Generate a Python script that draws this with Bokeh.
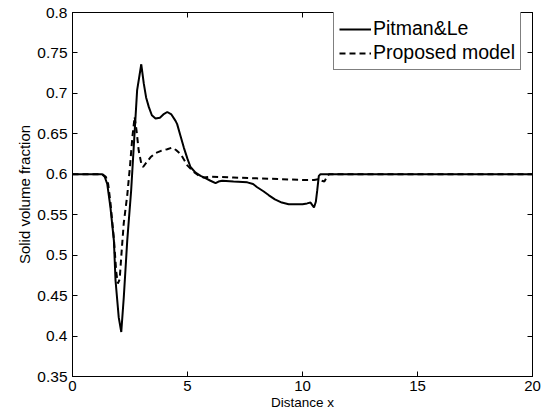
from bokeh.plotting import figure
from bokeh.models import LinearAxis, FixedTicker, Legend, LegendItem, Range1d
from bokeh.embed import file_html
from bokeh.resources import INLINE

# Pitman&Le (solid)
x_pitman = [0, 1.29, 1.4, 1.51, 1.65, 1.80, 1.87, 2.01, 2.12, 2.23, 2.38, 2.55, 2.81, 2.99,
            3.1, 3.2, 3.32, 3.45, 3.61, 3.8, 3.95, 4.12, 4.3, 4.48, 4.55, 4.7, 4.84, 5.0,
            5.13, 5.35, 5.57, 5.8, 6.0, 6.22, 6.35, 6.51, 7.0, 7.6, 7.85, 8.03, 8.3, 8.54,
            8.8, 9.1, 9.4, 9.77, 10.0, 10.2, 10.35, 10.45, 10.5, 10.58, 10.64, 10.71, 10.78, 20]
y_pitman = [0.6, 0.6, 0.597, 0.588, 0.559, 0.518, 0.469, 0.423, 0.405, 0.448, 0.518, 0.58, 0.704, 0.736,
            0.712, 0.695, 0.683, 0.673, 0.669, 0.670, 0.674, 0.677, 0.674, 0.666, 0.662, 0.647, 0.633, 0.619,
            0.609, 0.602, 0.598, 0.595, 0.592, 0.589, 0.591, 0.592, 0.591, 0.590, 0.588, 0.584, 0.579, 0.574,
            0.569, 0.565, 0.563, 0.563, 0.563, 0.564, 0.565, 0.561, 0.559, 0.566, 0.58, 0.598, 0.600, 0.6]

# Proposed model (dashed)
x_prop = [0, 1.3, 1.45, 1.55, 1.65, 1.8, 1.9, 1.97, 2.05, 2.15, 2.23, 2.38, 2.5, 2.6, 2.7,
          2.78, 2.88, 3.0, 3.07, 3.2, 3.39, 3.6, 3.85, 4.12, 4.33, 4.5, 4.7, 4.85, 4.99,
          5.27, 5.5, 5.71, 6.0, 7.0, 8.0, 9.0, 10.0, 10.5, 10.7, 10.85, 10.95, 11.05, 11.15, 20]
y_prop = [0.6, 0.6, 0.597, 0.588, 0.565, 0.52, 0.48, 0.465, 0.47, 0.51, 0.54, 0.574, 0.61, 0.645, 0.671,
          0.655, 0.629, 0.612, 0.609, 0.614, 0.621, 0.626, 0.629, 0.631, 0.633, 0.630, 0.625, 0.618, 0.611,
          0.603, 0.598, 0.596, 0.597, 0.596, 0.595, 0.594, 0.593, 0.593, 0.594, 0.592, 0.591, 0.596, 0.6, 0.6]

x_ticks = [0, 5, 10, 15, 20]
y_ticks = [0.35, 0.4, 0.45, 0.5, 0.55, 0.6, 0.65, 0.7, 0.75, 0.8]
y_tick_labels = ["0.35", "0.4", "0.45", "0.5", "0.55", "0.6", "0.65", "0.7", "0.75", "0.8"]

FONT = "Liberation Sans"

p = figure(width=550, height=419, output_backend="svg", toolbar_location=None,
           x_range=Range1d(0, 20), y_range=Range1d(0.35, 0.8),
           min_border_left=72, min_border_right=18, min_border_top=12, min_border_bottom=43)
p.grid.visible = False
p.outline_line_color = "black"
p.outline_line_width = 1
p.background_fill_color = "white"
p.border_fill_color = "white"

r1 = p.line(x_pitman, y_pitman, line_color="black", line_width=2)
r2 = p.line(x_prop, y_prop, line_color="black", line_width=2, line_dash="6 4")

def style_axis(ax, show_labels=True):
    ax.major_tick_in = 5
    ax.major_tick_out = 0
    ax.minor_tick_line_color = None
    ax.axis_line_color = "black"
    ax.major_tick_line_color = "black"
    ax.major_label_text_font = FONT
    ax.major_label_text_color = "black"
    ax.axis_label_text_font = FONT
    ax.axis_label_text_font_style = "normal"
    ax.axis_label_text_color = "black"
    if not show_labels:
        ax.major_label_text_font_size = "1px"
        ax.major_label_text_color = None
        ax.major_label_standoff = 0

xa = p.xaxis[0]
xa.ticker = FixedTicker(ticks=x_ticks)
style_axis(xa)
xa.major_label_text_font_size = "15px"
xa.major_label_standoff = 4
xa.axis_label = "Distance x"
xa.axis_label_text_font_size = "13.5px"
xa.axis_label_standoff = 1

ya = p.yaxis[0]
ya.ticker = FixedTicker(ticks=y_ticks)
ya.major_label_overrides = {t: l for t, l in zip(y_ticks, y_tick_labels)}
style_axis(ya)
ya.major_label_text_font_size = "15.5px"
ya.major_label_standoff = 5
ya.axis_label = "Solid volume fraction"
ya.axis_label_text_font_size = "15px"
ya.axis_label_standoff = 1

top = LinearAxis(ticker=FixedTicker(ticks=x_ticks))
style_axis(top, show_labels=False)
p.add_layout(top, "above")
right = LinearAxis(ticker=FixedTicker(ticks=y_ticks))
style_axis(right, show_labels=False)
p.add_layout(right, "right")

legend = Legend(items=[LegendItem(label="Pitman&Le", renderers=[r1]),
                       LegendItem(label="Proposed model", renderers=[r2])],
                location=(261, 306))
legend.label_text_font = FONT
legend.label_text_font_size = "19.5px"
legend.label_text_color = "black"
legend.border_line_color = "black"
legend.border_line_width = 1
legend.background_fill_color = "white"
legend.background_fill_alpha = 1
legend.glyph_width = 32
legend.glyph_height = 22
legend.label_height = 22
legend.label_standoff = 2
legend.padding = 5
legend.spacing = 1
legend.margin = 0
p.add_layout(legend)

open("out.html", "w").write(file_html(p, INLINE))
